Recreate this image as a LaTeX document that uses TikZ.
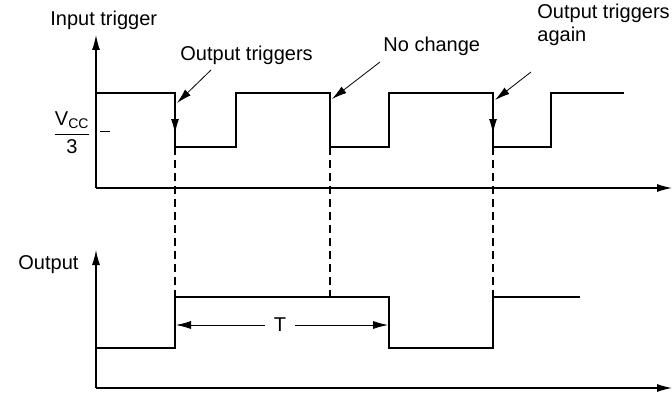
\documentclass[tikz,border=0pt]{standalone}
\usepackage{amsmath}
\usepackage{fontspec}
\setmainfont{Liberation Sans}
\usetikzlibrary{positioning,arrows.meta}
\tikzset{lbl/.style = {font=\fontsize{20}{23}\selectfont, inner sep=0pt},
  tip/.style = {-{Latex[length=15pt, width=8pt]}},
  wave/.style = {line width=1.6pt},
  axis/.style = {line width=1.2pt, tip},
  guide/.style = {line width=1.2pt, dash pattern=on 8pt off 5pt}}

\begin{document}
\begin{tikzpicture}[x=1pt, y=-1pt, thick]
  \useasboundingbox (0,0) rectangle (672,404);
  % axes
  \coordinate (o1) at (96,188);
  \coordinate (o2) at (96,388);
  \draw[axis] (o1) -- (96,35);
  \draw[axis] (o1) -- (672,188);
  \draw[axis] (o2) -- (96,250);
  \draw[axis] (o2) -- (672,388);
  \node[lbl, anchor=base west] (inlbl) at (50,26) {Input trigger};
  \node[lbl, anchor=base west] (outlbl) at (18,269) {Output};
  \node[lbl] (vcc) at (72,133) {$\dfrac{\text{V}_{\text{CC}}}{\text{3}}$};
  \draw[thin] (100,131) -- (110,131);
  % input trigger
  \draw[wave] (96,93) -- (175,93) -- (175,147) -- (236,147) -- (236,93)
    -- (330,93) -- (330,147) -- (389,147) -- (389,93) -- (493,93)
    -- (493,147) -- (551,147) -- (551,93) -- (624,93);
  \draw[wave, tip] (175,100) -- (175,134);
  \draw[wave, tip] (493,100) -- (493,134);
  % output
  \draw[wave] (96,348) -- (175,348) -- (175,297) -- (389,297) -- (389,348)
    -- (493,348) -- (493,297) -- (580,297);
  \draw[guide] (175,147) -- (175,297);
  \draw[guide] (330,147) -- (330,297);
  \draw[guide] (493,147) -- (493,297);
  % pulse width
  \node[lbl, inner xsep=8pt] (T) at (280,325) {T};
  \coordinate (tl) at (176,325);
  \coordinate (tr) at (388,325);
  \draw[tip] (T) -- (tl);
  \draw[tip] (T) -- (tr);
  % notes
  \node[lbl, anchor=base west] (trig1) at (180,60) {Output triggers};
  \node[lbl, anchor=base west] (same) at (383,52) {No change};
  \node[lbl, anchor=base west, align=left] (trig2) at (537,42) {Output triggers\\again};
  \coordinate (t1) at (211,70);
  \coordinate (e1) at (177,103);
  \coordinate (t2) at (380,62);
  \coordinate (e2) at (332,99);
  \coordinate (t3) at (531,72);
  \coordinate (e3) at (495,100);
  \draw[tip] (t1) -- (e1);
  \draw[tip] (t2) -- (e2);
  \draw[tip] (t3) -- (e3);
\end{tikzpicture}
\end{document}
